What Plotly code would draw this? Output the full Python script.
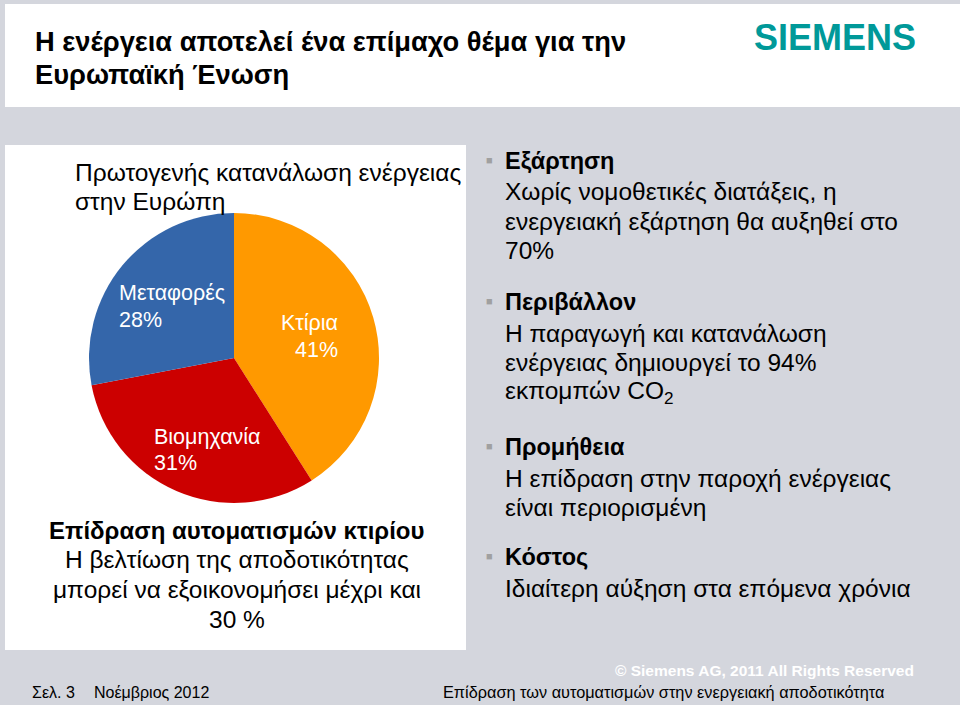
import plotly.graph_objects as go

W, H = 960, 705

# ---- data ----
sectors = ["Κτίρια", "Βιομηχανία", "Μεταφορές"]
shares = [41, 31, 28]
colors = ["#FF9900", "#CC0000", "#3466AA"]

title_lines = ["Η ενέργεια αποτελεί ένα επίμαχο θέμα για την", "Ευρωπαϊκή Ένωση"]
pie_title_lines = ["Πρωτογενής κατανάλωση ενέργειας", "στην Ευρώπη"]
impact_head = "Επίδραση αυτοματισμών κτιρίου"
impact_lines = ["Η βελτίωση της αποδοτικότητας", "μπορεί να εξοικονομήσει μέχρι και", "30 %"]
bullet_heads = ["Εξάρτηση", "Περιβάλλον", "Προμήθεια", "Κόστος"]
bullet_bodies = [
    ["Χωρίς νομοθετικές διατάξεις, η", "ενεργειακή εξάρτηση θα αυξηθεί στο", "70%"],
    ["Η παραγωγή και κατανάλωση", "ενέργειας δημιουργεί το 94%", "εκπομπών CO<sub>2</sub>"],
    ["Η επίδραση στην παροχή ενέργειας", "είναι περιορισμένη"],
    ["Ιδιαίτερη αύξηση στα επόμενα χρόνια"],
]
footer_copyright = "© Siemens AG, 2011 All Rights Reserved"
footer_page = "Σελ. 3"
footer_date = "Νοέμβριος 2012"
footer_topic = "Επίδραση των αυτοματισμών στην ενεργειακή αποδοτικότητα"


def px(x):
    return x / W


def py(y):
    return 1 - y / H


ARIAL = "Liberation Sans, Arial, sans-serif"

annotations = []


def add_text(x, y, text, size, color="#000000", family=ARIAL, xanchor="left", bold=False):
    if bold:
        text = "<b>" + text + "</b>"
    annotations.append(dict(
        x=px(x), y=py(y), xref="paper", yref="paper", text=text, showarrow=False,
        xanchor=xanchor, yanchor="middle", font=dict(size=size, color=color, family=family),
        align=xanchor if xanchor != "center" else "center",
    ))


fig = go.Figure()

# pie chart
cx, cy, r = 234, 358, 145
fig.add_trace(go.Pie(
    labels=sectors, values=shares, sort=False, direction="clockwise", rotation=0,
    marker=dict(colors=colors, line=dict(width=0)),
    textinfo="none", hoverinfo="label+percent", showlegend=False,
    domain=dict(x=[px(cx - r), px(cx + r)], y=[py(cy + r), py(cy - r)]),
))

# slice labels (text built from the data)
label_pos = {
    "Κτίρια": (340, 323, 350, "right"),
    "Βιομηχανία": (152, 437, 463, "left"),
    "Μεταφορές": (117, 293, 320, "left"),
}
for name, val in zip(sectors, shares):
    x, y1, y2, anc = label_pos[name]
    add_text(x, y1, name, 21.5, "#FFFFFF", xanchor=anc)
    add_text(x, y2, f"{val}%", 21.5, "#FFFFFF", xanchor=anc)

# header title
for i, line in enumerate(title_lines):
    add_text(33, 42 + i * 32, line, 27.3, bold=True)

# SIEMENS logo text
add_text(835, 38, "SIEMENS", 36, "#009999", xanchor="center", bold=True)

# pie title
for i, line in enumerate(pie_title_lines):
    add_text(73, 172 + i * 29, line, 24.5)

# impact block
add_text(237, 530, impact_head, 24, bold=True, xanchor="center")
for i, line in enumerate(impact_lines):
    add_text(237, 559 + i * 30, line, 24.5, xanchor="center")

# bullets
head_y = [161, 302, 447, 557]
for hy, head, body in zip(head_y, bullet_heads, bullet_bodies):
    add_text(489, hy - 1, "■", 11, "#A0A0A0", xanchor="center")
    add_text(503, hy, head, 23.5, bold=True)
    for j, line in enumerate(body):
        add_text(503, hy + 31 + j * 29.5, line, 24.5)

# footer
add_text(916, 670, footer_copyright, 15.5, "#FFFFFF", xanchor="right", bold=True)
add_text(30, 692, footer_page, 16)
add_text(92, 692, footer_date, 16)
add_text(441, 692, footer_topic, 16.3)

shapes = [
    dict(type="rect", xref="paper", yref="paper", x0=px(5), x1=px(960), y0=py(107), y1=py(4),
         fillcolor="#FFFFFF", line=dict(width=0), layer="below"),
    dict(type="rect", xref="paper", yref="paper", x0=px(5), x1=px(466), y0=py(650), y1=py(145),
         fillcolor="#FFFFFF", line=dict(width=0), layer="below"),
]

fig.update_layout(
    width=W, height=H, margin=dict(l=0, r=0, t=0, b=0),
    paper_bgcolor="#D4D6DD", plot_bgcolor="#D4D6DD",
    annotations=annotations, shapes=shapes, showlegend=False,
)

fig.write_html(
    "out.html",
    config={"displayModeBar": False},
    post_script="document.body.style.margin='0';document.body.style.overflow='hidden';",
)
